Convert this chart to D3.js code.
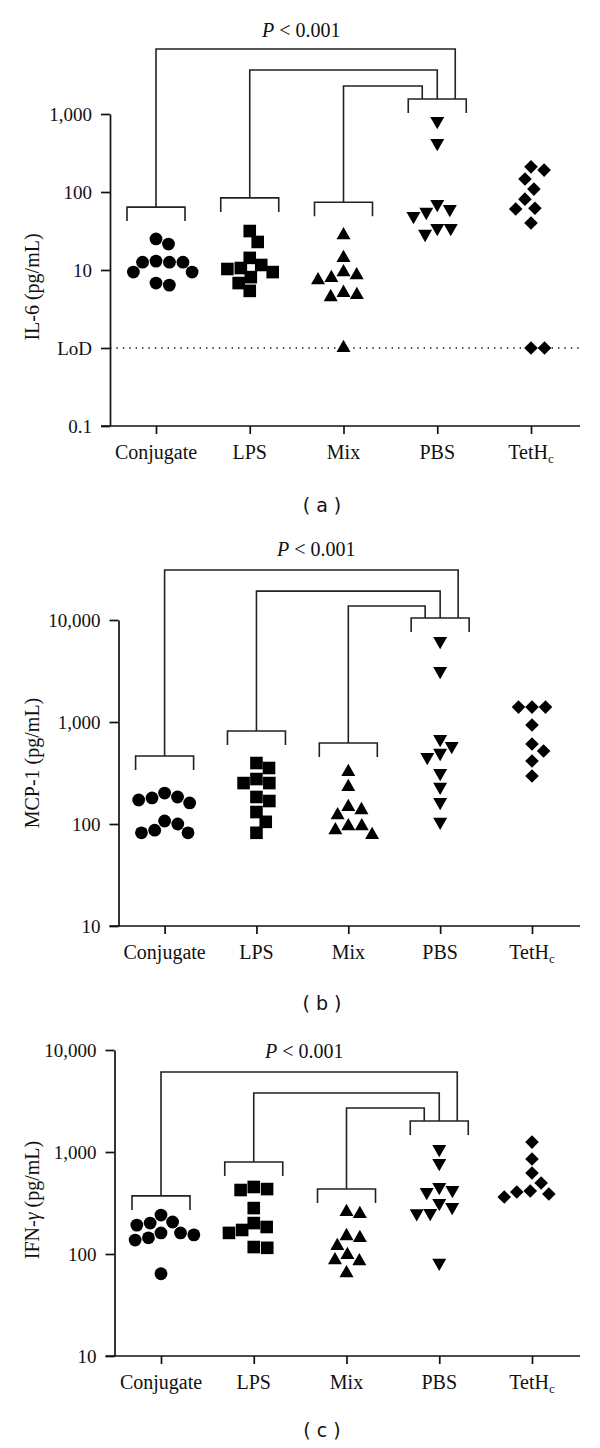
<!DOCTYPE html>
<html>
<head>
<meta charset="utf-8">
<script src="https://cdn.jsdelivr.net/npm/d3@7"></script>
<style>
  html, body { margin: 0; padding: 0; background: #fff; }
  svg { display: block; }
</style>
</head>
<body>
<svg id="chart" width="600" height="1448"></svg>
<script>
// ---------------- DATA ----------------
const categories = ["Conjugate", "LPS", "Mix", "PBS", "TetHc"];

// (a) IL-6 (pg/mL); LoD plotted at 1
const il6Conjugate = [25, 21.5, 13, 12.6, 12.6, 12.6, 9.4, 9.4, 6.4, 6.8];
const il6LPS       = [31.6, 22.9, 14.3, 11.6, 10.6, 10.3, 9.4, 8.1, 6.8, 5.4];
const il6Mix       = [28, 14.3, 9.4, 8.6, 7.9, 7.4, 5.1, 4.8, 4.5, 1];
const il6PBS       = [813, 425, 70, 60.5, 55.5, 49, 34.5, 34.5, 29];
const il6TetHc     = [210, 191, 147, 109, 81, 62, 60.5, 40, 1, 1];
const il6Ticks     = [0.1, 1, 10, 100, 1000];
const il6TickLabels = ["0.1", "LoD", "10", "100", "1,000"];
const il6LoD       = 1;
// bracket levels (data units): group brackets for Conjugate, LPS, Mix, PBS; link tops for Conjugate, LPS, Mix
const il6Brackets  = [64, 84, 74, 1557];
const il6Links     = [6800, 3660, 2285];

// (b) MCP-1 (pg/mL)
const mcpConjugate = [201, 184, 180, 172, 161, 107, 100, 87, 82, 82];
const mcpLPS       = [396, 354, 276, 252, 252, 184, 168, 131, 105, 82];
const mcpMix       = [324, 231, 147, 137, 122, 95, 95, 87, 78];
const mcpPBS       = [6220, 3160, 681, 582, 497, 454, 316, 231, 164, 105];
const mcpTetHc     = [1400, 1400, 1400, 935, 608, 520, 415, 296];
const mcpTicks     = [10, 100, 1000, 10000];
const mcpTickLabels = ["10", "100", "1,000", "10,000"];
const mcpBrackets  = [464, 816, 622, 10460];
const mcpLinks     = [30900, 19200, 13700];

// (c) IFN-γ (pg/mL)
const ifnConjugate = [241, 206, 201, 192, 161, 161, 154, 144, 137, 64];
const ifnLPS       = [454, 433, 424, 282, 201, 184, 172, 161, 117, 115];
const ifnMix       = [258, 247, 150, 144, 120, 98, 87, 85, 65];
const ifnPBS       = [1070, 780, 454, 424, 405, 316, 289, 252, 250, 82];
const ifnTetHc     = [1250, 853, 622, 497, 415, 405, 387, 362];
const ifnTicks     = [10, 100, 1000, 10000];
const ifnTickLabels = ["10", "100", "1,000", "10,000"];
const ifnBrackets  = [371, 798, 434, 2014];
const ifnLinks     = [6080, 3784, 2698];

const pText = "< 0.001";

// ---------------- LAYOUT ----------------
const panels = [
  { series: [il6Conjugate, il6LPS, il6Mix, il6PBS, il6TetHc], ticks: il6Ticks, tickLabels: il6TickLabels,
    brackets: il6Brackets, links: il6Links, lod: il6LoD, yLabel: ["IL-6 (pg/mL)"], caption: "a",
    axisX: 110, yRange: [426, 114], xFirst: 156, xLast: 531, xEnd: 580,
    pX: 262, pY: 37, labelY: 287, captionY: 505 },
  { series: [mcpConjugate, mcpLPS, mcpMix, mcpPBS, mcpTetHc], ticks: mcpTicks, tickLabels: mcpTickLabels,
    brackets: mcpBrackets, links: mcpLinks, lod: null, yLabel: ["MCP-1 (pg/mL)"], caption: "b",
    axisX: 118.5, yRange: [926, 620], xFirst: 164.6, xLast: 532, xEnd: 580,
    pX: 277, pY: 556, labelY: 763, captionY: 1003 },
  { series: [ifnConjugate, ifnLPS, ifnMix, ifnPBS, ifnTetHc], ticks: ifnTicks, tickLabels: ifnTickLabels,
    brackets: ifnBrackets, links: ifnLinks, lod: null, yLabel: ["IFN-", "γ", " (pg/mL)"], caption: "c",
    axisX: 114.5, yRange: [1356, 1050], xFirst: 161, xLast: 532, xEnd: 580,
    pX: 265, pY: 1058, labelY: 1200, captionY: 1430 }
];

const serif = "'Liberation Serif', 'Times New Roman', serif";
const ink = "#111";

// custom marker shapes
const shapes = [
  { draw(c) { c.moveTo(6.4, 0); c.arc(0, 0, 6.4, 0, 2 * Math.PI); } },                 // circle
  { draw(c) { c.rect(-6.3, -6.3, 12.6, 12.6); } },                                     // square
  { draw(c) { c.moveTo(0, -8.2); c.lineTo(7, 4.1); c.lineTo(-7, 4.1); c.closePath(); } }, // triangle up
  { draw(c) { c.moveTo(0, 8.2); c.lineTo(7, -4.1); c.lineTo(-7, -4.1); c.closePath(); } }, // triangle down
  { draw(c) { c.moveTo(0, -6.8); c.lineTo(6.8, 0); c.lineTo(0, 6.8); c.lineTo(-6.8, 0); c.closePath(); } } // diamond
];

// greedy beeswarm offsets (column scatter)
function swarm(vals, y, D) {
  const pts = vals.map(v => ({ v, y: y(v) })).sort((a, b) => a.y - b.y);
  const placed = [];
  for (const p of pts) {
    const iv = [];
    for (const q of placed) {
      const dy = Math.abs(q.y - p.y);
      if (dy < D) { const w = Math.sqrt(D * D - dy * dy); iv.push([q.dx - w, q.dx + w]); }
    }
    const cands = [0];
    iv.forEach(([a, b]) => cands.push(a, b));
    cands.sort((a, b) => Math.abs(a) - Math.abs(b) || b - a);
    const ok = c => iv.every(([a, b]) => c <= a + 1e-6 || c >= b - 1e-6);
    p.dx = cands.find(ok);
    placed.push(p);
  }
  return pts;
}

const svg = d3.select("#chart");
svg.append("rect").attr("width", 600).attr("height", 1448).attr("fill", "#fff");

panels.forEach(P => {
  const g = svg.append("g");
  const y = d3.scaleLog().domain([P.ticks[0], P.ticks[P.ticks.length - 1]]).range(P.yRange);
  const x = d3.scalePoint().domain(categories).range([P.xFirst, P.xLast]);

  // LoD dotted line
  if (P.lod != null) {
    g.append("line").attr("x1", P.axisX).attr("x2", P.xEnd)
      .attr("y1", y(P.lod)).attr("y2", y(P.lod))
      .attr("stroke", ink).attr("stroke-width", 1.4).attr("stroke-dasharray", "1.4,5");
  }

  // Y axis
  const yAxis = d3.axisLeft(y).tickValues(P.ticks).tickSize(9).tickSizeOuter(0)
    .tickFormat((d, i) => P.tickLabels[i]);
  const ya = g.append("g").attr("transform", `translate(${P.axisX},0)`).call(yAxis);
  ya.select(".domain").attr("stroke", ink).attr("stroke-width", 1.7);
  ya.selectAll(".tick line").attr("stroke", ink).attr("stroke-width", 1.7);
  ya.selectAll(".tick text").attr("x", -18).attr("fill", ink)
    .style("font-family", serif).style("font-size", "19px");

  // X axis
  const xa = g.append("g").attr("transform", `translate(0,${P.yRange[0]})`)
    .call(d3.axisBottom(x).tickSize(8).tickSizeOuter(0).tickFormat(""));
  xa.select(".domain").remove();
  xa.append("line").attr("x1", P.axisX - 9).attr("x2", P.xEnd).attr("y1", 0).attr("y2", 0)
    .attr("stroke", ink).attr("stroke-width", 1.7);
  xa.selectAll(".tick line").attr("stroke", ink).attr("stroke-width", 1.7);
  categories.forEach(c => {
    const t = g.append("text").attr("x", x(c)).attr("y", P.yRange[0] + 33)
      .attr("text-anchor", "middle").attr("fill", ink)
      .style("font-family", serif).style("font-size", "20px");
    if (c === "TetHc") {
      t.append("tspan").text("TetH");
      t.append("tspan").text("c").attr("dy", 4).style("font-size", "13px");
    } else t.text(c);
  });

  // Y label
  const yl = g.append("text").attr("transform", `translate(32,${P.labelY}) rotate(-90)`)
    .attr("text-anchor", "middle").attr("dy", "0.35em").attr("fill", ink)
    .style("font-family", serif).style("font-size", "20px");
  P.yLabel.forEach(s => {
    const ts = yl.append("tspan").text(s);
    if (s === "γ") ts.style("font-style", "italic");
  });

  // brackets
  const hw = 29, leg = 14;
  const bcol = "#222", bw = 1.6;
  const line = d3.line();
  const groupCats = categories.slice(0, 4);
  groupCats.forEach((c, i) => {
    const yb = y(P.brackets[i]);
    g.append("path").attr("d", line([[x(c) - hw, yb + leg], [x(c) - hw, yb], [x(c) + hw, yb], [x(c) + hw, yb + leg]]))
      .attr("fill", "none").attr("stroke", bcol).attr("stroke-width", bw);
  });
  const pbsX = x("PBS"), pbsY = y(P.brackets[3]);
  const inOff = [18, 0, -15];
  groupCats.slice(0, 3).forEach((c, i) => {
    const yt = y(P.links[i]);
    g.append("path").attr("d", line([[x(c), y(P.brackets[i])], [x(c), yt], [pbsX + inOff[i], yt], [pbsX + inOff[i], pbsY]]))
      .attr("fill", "none").attr("stroke", bcol).attr("stroke-width", bw);
  });

  // P value text
  const pt = g.append("text").attr("x", P.pX).attr("y", P.pY).attr("fill", ink)
    .style("font-family", serif).style("font-size", "20px");
  pt.append("tspan").text("P").style("font-style", "italic");
  pt.append("tspan").text(" " + pText);

  // points
  P.series.forEach((vals, si) => {
    const pts = swarm(vals, y, 13.5);
    const sym = d3.symbol().type(shapes[si]);
    g.selectAll(null).data(pts).enter().append("path")
      .attr("d", sym())
      .attr("transform", d => `translate(${x(categories[si]) + d.dx},${d.y})`)
      .attr("fill", "#000");
  });

  // caption
  g.append("text").attr("x", 322).attr("y", P.captionY).attr("text-anchor", "middle")
    .attr("dy", "0.35em").attr("fill", ink)
    .style("font-family", "'DejaVu Sans', Verdana, sans-serif").style("font-size", "19px")
    .text(`( ${P.caption} )`);
});
</script>
</body>
</html>
